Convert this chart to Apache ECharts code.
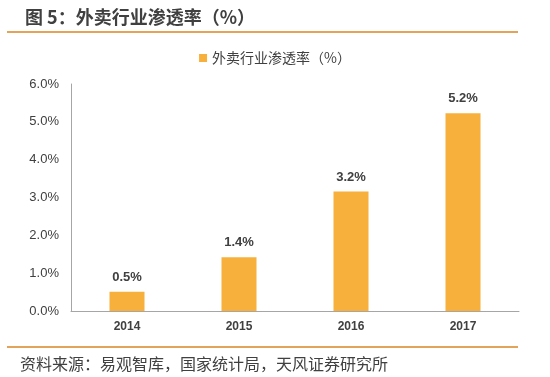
<!DOCTYPE html>
<html>
<head>
<meta charset="utf-8">
<script src="https://cdn.jsdelivr.net/npm/echarts@6/dist/echarts.min.js"></script>
<style>
  html, body { margin: 0; padding: 0; background: #fff; }
  #chart { width: 550px; height: 377px; }
</style>
</head>
<body>
<div id="chart"></div>
<script>
// 数据
var years = ['2014', '2015', '2016', '2017'];
var rate = [0.51, 1.42, 3.16, 5.23];
var seriesName = '外卖行业渗透率（%）';

var font = '"Microsoft YaHei", "Noto Sans CJK SC", sans-serif';
var chart = echarts.init(document.getElementById('chart'));

var option = {
    backgroundColor: '#fff',
    animation: false,
    title: {
        text: '图 5：外卖行业渗透率（%）',
        left: 20, top: 3,
        textStyle: { color: '#404040', fontSize: 18, fontWeight: 'bold', fontFamily: font }
    },
    legend: {
        top: 46, left: 'center',
        itemWidth: 8, itemHeight: 8, itemGap: 4,
        icon: 'rect',
        textStyle: { color: '#404040', fontSize: 14, fontFamily: font },
        data: [seriesName]
    },
    grid: { left: 71, right: 31, top: 84, bottom: 66 },
    xAxis: {
        type: 'category',
        data: years,
        axisLine: { lineStyle: { color: '#a6a6a6', width: 1 } },
        axisTick: { show: false },
        axisLabel: { color: '#404040', fontSize: 12, fontWeight: 'bold', margin: 10, fontFamily: 'Arial, "Liberation Sans", sans-serif' }
    },
    yAxis: {
        type: 'value',
        min: 0, max: 6, interval: 1,
        axisLine: { show: true, lineStyle: { color: '#a6a6a6', width: 1 } },
        axisTick: { show: false },
        splitLine: { show: false },
        axisLabel: {
            color: '#404040', fontSize: 13, margin: 12,
            fontFamily: 'Arial, "Liberation Sans", sans-serif',
            formatter: function (v) { return v.toFixed(1) + '%'; }
        }
    },
    series: [{
        name: seriesName,
        type: 'bar',
        data: rate,
        barWidth: 35,
        itemStyle: { color: '#F8B03C' },
        label: {
            show: true, position: 'top', distance: 8,
            color: '#404040', fontSize: 13, fontWeight: 'bold',
            fontFamily: 'Arial, "Liberation Sans", sans-serif',
            formatter: function (p) { return p.value.toFixed(1) + '%'; }
        }
    }],
    graphic: [
        { type: 'rect', shape: { x: 7, y: 31, width: 511, height: 2 }, style: { fill: '#E1A45A' } },
        { type: 'rect', shape: { x: 7, y: 346, width: 511, height: 2 }, style: { fill: '#E1A45A' } },
        {
            type: 'text', left: 20, top: 356,
            style: { text: '资料来源：易观智库，国家统计局，天风证券研究所', fill: '#404040', fontSize: 16, fontFamily: font }
        }
    ]
};
chart.setOption(option);
</script>
</body>
</html>
